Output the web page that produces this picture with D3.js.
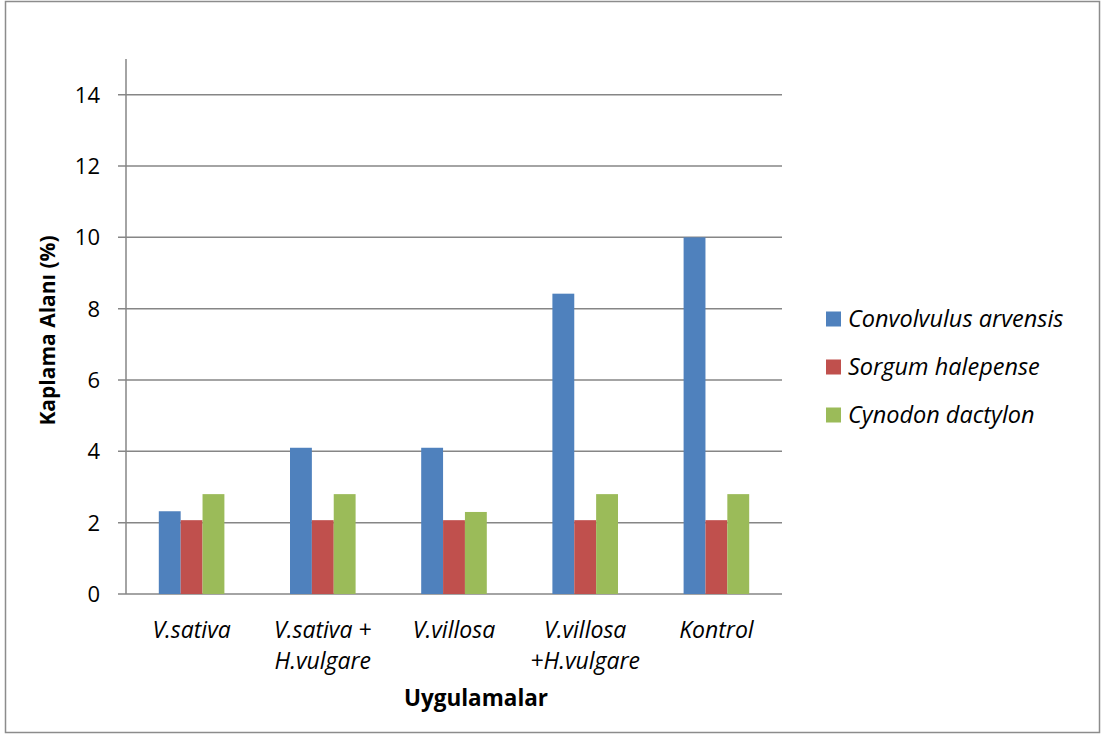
<!DOCTYPE html>
<html>
<head>
<meta charset="utf-8">
<script src="https://cdn.jsdelivr.net/npm/d3@7"></script>
<style>
  body { margin: 0; background: #fff; }
  svg { font-family: "Open Sans", "Noto Sans", sans-serif; }
</style>
</head>
<body>
<div id="chart"></div>
<script>
const categories = [["V.sativa"], ["V.sativa +", "H.vulgare"], ["V.villosa"], ["V.villosa", "+H.vulgare"], ["Kontrol"]]
const seriesNames = ["Convolvulus arvensis", "Sorgum halepense", "Cynodon dactylon"]
const convolvulus = [2.32, 4.1, 4.1, 8.42, 10.0]
const sorgum = [2.07, 2.07, 2.07, 2.07, 2.07]
const cynodon = [2.8, 2.8, 2.3, 2.8, 2.8]
const yTicks = [0, 2, 4, 6, 8, 10, 12, 14]

const colors = ["#4f81bd", "#c0504d", "#9bbb59"]
const seriesValues = [convolvulus, sorgum, cynodon]

const W = 1103, H = 735
const margin = { left: 126, top: 59, right: 321, bottom: 141 }

const svg = d3.select("#chart").append("svg")
    .attr("width", W)
    .attr("height", H)

// outer frame
svg.append("rect")
    .attr("x", 5.5).attr("y", 1.5)
    .attr("width", 1094).attr("height", 731)
    .attr("fill", "none")
    .attr("stroke", "#8c8c8c")
    .attr("stroke-width", 1.5)

const xScale = d3.scaleBand()
    .domain(d3.range(categories.length))
    .range([margin.left, W - margin.right])
    .paddingInner(0.5)
    .paddingOuter(0.25)

const yScale = d3.scaleLinear()
    .domain([0, 15])
    .range([H - margin.bottom, margin.top])

const subScale = d3.scaleBand()
    .domain(d3.range(seriesNames.length))
    .range([0, xScale.bandwidth()])

// gridlines
svg.append("g")
    .selectAll("line")
    .data(yTicks)
    .enter()
    .append("line")
    .attr("x1", margin.left - 8)
    .attr("x2", W - margin.right)
    .attr("y1", d => yScale(d))
    .attr("y2", d => yScale(d))
    .attr("stroke", "#868686")
    .attr("stroke-width", 1.5)

// y axis line
svg.append("line")
    .attr("x1", margin.left).attr("x2", margin.left)
    .attr("y1", yScale(15)).attr("y2", yScale(0))
    .attr("stroke", "#868686")
    .attr("stroke-width", 1.5)

// tick labels
svg.append("g")
    .selectAll("text")
    .data(yTicks)
    .enter()
    .append("text")
    .attr("x", margin.left - 26)
    .attr("y", d => yScale(d))
    .attr("dy", "0.36em")
    .attr("text-anchor", "end")
    .attr("font-size", 22)
    .attr("fill", "#000")
    .text(d => d)

// bars
seriesValues.forEach((vals, s) => {
    svg.append("g")
        .selectAll("rect")
        .data(vals)
        .enter()
        .append("rect")
        .attr("x", (d, i) => xScale(i) + subScale(s))
        .attr("y", d => yScale(d))
        .attr("width", subScale.bandwidth())
        .attr("height", d => yScale(0) - yScale(d))
        .attr("fill", colors[s])
})

// x category labels
const xLabels = svg.append("g")
    .selectAll("text")
    .data(categories)
    .enter()
    .append("text")
    .attr("x", (d, i) => xScale(i) + xScale.bandwidth() / 2)
    .attr("y", 638)
    .attr("text-anchor", "middle")
    .attr("font-size", 23)
    .attr("font-style", "italic")

xLabels.selectAll("tspan")
    .data(d => d)
    .enter()
    .append("tspan")
    .attr("x", function () { return d3.select(this.parentNode).attr("x") })
    .attr("dy", (d, i) => i === 0 ? 0 : 31)
    .text(d => d)

// axis titles
svg.append("text")
    .attr("x", 476)
    .attr("y", 706)
    .attr("text-anchor", "middle")
    .attr("font-size", 22.5)
    .attr("font-weight", "bold")
    .text("Uygulamalar")

svg.append("text")
    .attr("transform", `translate(55, ${(yScale(0) + yScale(15)) / 2 + 4}) rotate(-90)`)
    .attr("text-anchor", "middle")
    .attr("font-size", 21)
    .attr("font-weight", "bold")
    .text("Kaplama Alanı (%)")

// legend
const legend = svg.append("g")
    .selectAll("g")
    .data(seriesNames)
    .enter()
    .append("g")
    .attr("transform", (d, i) => `translate(826, ${319 + i * 48})`)

legend.append("rect")
    .attr("x", 0).attr("y", -7.5)
    .attr("width", 15).attr("height", 15)
    .attr("fill", (d, i) => colors[i])

legend.append("text")
    .attr("x", 22)
    .attr("y", 0)
    .attr("dy", "0.36em")
    .attr("font-size", 23.5)
    .attr("font-style", "italic")
    .text(d => d)
</script>
</body>
</html>
